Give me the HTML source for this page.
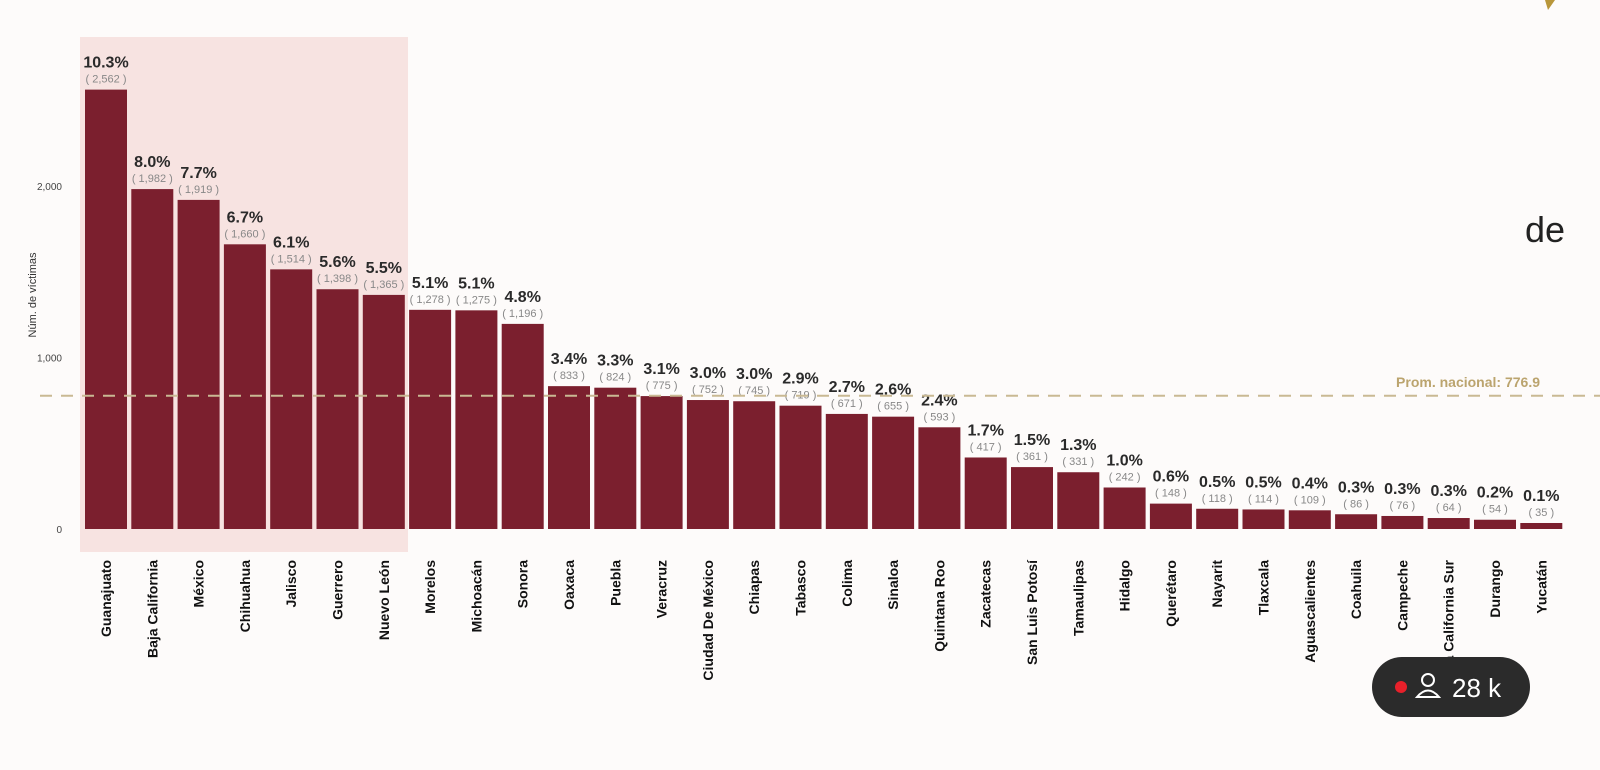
<!DOCTYPE html>
<html><head><meta charset="utf-8"><style>
body{margin:0;width:1600px;height:770px;overflow:hidden;background:#fdfbfa;font-family:"Liberation Sans",sans-serif;}
svg{display:block}
</style></head><body>
<svg width="1600" height="770" xmlns="http://www.w3.org/2000/svg">
<rect x="80" y="37" width="328" height="515" fill="#f7e3e1"/>
<g id="yaxis"></g>
<text transform="translate(36,295) rotate(-90)" text-anchor="middle" font-size="11" fill="#333">Núm. de víctimas</text>
<g id="bars"></g>
<g id="labels"></g>
<g id="xlabels"></g>
<line id="avg" x1="40" x2="1600" stroke="#c9b993" stroke-width="2" stroke-dasharray="12,9"/>
<text id="avgLabel" x="1540" text-anchor="end" font-size="14" font-weight="bold" fill="#bba46e">Prom. nacional: 776.9</text>
<text x="1565" y="242" text-anchor="end" font-size="36" fill="#222">de</text>
<path d="M1545 0 L1555 0 L1548 10 Z" fill="#b8963a"/>
<g>
<rect x="1372" y="657" width="158" height="60" rx="30" fill="#2b2b2b"/>
<circle cx="1401" cy="687" r="6" fill="#e8202a"/>
<circle cx="1428" cy="680" r="6" fill="none" stroke="#fff" stroke-width="2"/>
<path d="M1417 697 Q1428 684 1439 697 Z" fill="none" stroke="#fff" stroke-width="2"/>
<text x="1452" y="697" font-size="26" fill="#fff">28 k</text>
</g>
</svg>
<script>
const categories=["Guanajuato","Baja California","México","Chihuahua","Jalisco","Guerrero","Nuevo León","Morelos","Michoacán","Sonora","Oaxaca","Puebla","Veracruz","Ciudad De México","Chiapas","Tabasco","Colima","Sinaloa","Quintana Roo","Zacatecas","San Luis Potosí","Tamaulipas","Hidalgo","Querétaro","Nayarit","Tlaxcala","Aguascalientes","Coahuila","Campeche","Baja California Sur","Durango","Yucatán"];
const values=[2562,1982,1919,1660,1514,1398,1365,1278,1275,1196,833,824,775,752,745,719,671,655,593,417,361,331,242,148,118,114,109,86,76,64,54,35];
const percents=["10.3%","8.0%","7.7%","6.7%","6.1%","5.6%","5.5%","5.1%","5.1%","4.8%","3.4%","3.3%","3.1%","3.0%","3.0%","2.9%","2.7%","2.6%","2.4%","1.7%","1.5%","1.3%","1.0%","0.6%","0.5%","0.5%","0.4%","0.3%","0.3%","0.3%","0.2%","0.1%"];
const yTicks=[0,1000,2000];
const yTickLabels=["0","1,000","2,000"];
const average=776.9;
const NS="http://www.w3.org/2000/svg";
const y=v=>529-v*0.1715;
const step=46.3, bw=42;
const xc=i=>106+i*step;
function mk(t,a,p){const e=document.createElementNS(NS,t);for(const k in a)e.setAttribute(k,a[k]);p.appendChild(e);return e;}
const ya=document.getElementById('yaxis');
yTicks.forEach((t,i)=>{const e=mk('text',{x:62,y:y(t)+4,'text-anchor':'end','font-size':10,fill:'#444'},ya);e.textContent=yTickLabels[i];

});
const B=document.getElementById('bars'),L=document.getElementById('labels'),X=document.getElementById('xlabels');
categories.forEach((c,i)=>{
 const r=mk('rect',{x:xc(i)-bw/2,y:y(values[i]),width:bw,height:529-y(values[i]),fill:'#7b1f2e'},B);
 
 
 const p=mk('text',{x:xc(i),y:y(values[i])-22,'text-anchor':'middle','font-size':16,'font-weight':'bold',fill:'#2a2a2a'},L);p.textContent=percents[i];
 
 
 const n=mk('text',{x:xc(i),y:y(values[i])-7,'text-anchor':'middle','font-size':11,fill:'#888'},L);n.textContent='( '+values[i].toLocaleString('en-US')+' )';
 
 
 const t=mk('text',{transform:`translate(${xc(i)+5},560) rotate(-90)`,'text-anchor':'end','font-size':14,'font-weight':'bold',fill:'#111'},X);t.textContent=c;
 
 
});
const av=document.getElementById('avg');av.setAttribute('y1',y(average));av.setAttribute('y2',y(average));
document.getElementById('avgLabel').setAttribute('y',y(average)-9);
</script>
</body></html>
